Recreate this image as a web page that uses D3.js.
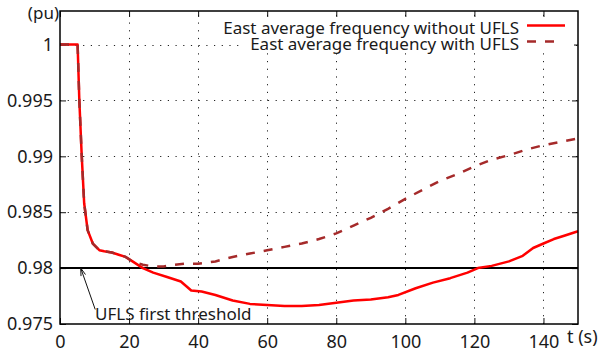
<!DOCTYPE html>
<html>
<head>
<meta charset="utf-8">
<script src="https://cdn.jsdelivr.net/npm/d3@7/dist/d3.min.js"></script>
<style>
body { margin: 0; background: #fff; }
text { font-family: "Noto Sans", sans-serif; fill: #1a1a1a; }
</style>
</head>
<body>
<script>
// data
var tWithout = [0, 5.1, 5.6, 6.3, 7.0, 8.0, 9.5, 11.4, 12.8, 15, 17, 19, 21, 24, 27, 31, 35, 38, 41, 45, 50, 55, 60, 65, 70, 75, 80, 85, 90, 95, 98, 103, 108, 113, 118, 121, 125, 130, 134, 137, 140, 143, 146, 150];
var fWithout = [1, 1, 0.995, 0.99, 0.9858, 0.9834, 0.9822, 0.9816, 0.9815, 0.9814, 0.9812, 0.981, 0.9806, 0.98, 0.9796, 0.9792, 0.9788, 0.978, 0.9779, 0.9776, 0.9771, 0.9768, 0.9767, 0.9766, 0.9766, 0.9767, 0.9769, 0.9771, 0.9772, 0.9774, 0.9776, 0.9782, 0.9787, 0.9791, 0.9796, 0.98, 0.9802, 0.9806, 0.9811, 0.9818, 0.9822, 0.9826, 0.9829, 0.9833];

var tWith = [0, 5.1, 5.6, 6.3, 7.0, 8.0, 9.5, 11.4, 12.8, 15, 17, 19, 21, 24, 27, 30, 33, 36, 40, 45, 50, 55, 60, 65, 70, 75, 80, 85, 90, 95, 100, 105, 110, 115, 120, 125, 130, 135, 140, 145, 150];
var fWith = [1, 1, 0.995, 0.99, 0.9858, 0.9834, 0.9822, 0.9816, 0.9815, 0.9814, 0.9812, 0.981, 0.9806, 0.9803, 0.98015, 0.98015, 0.9803, 0.9804, 0.9804, 0.9806, 0.981, 0.9813, 0.9816, 0.9819, 0.9822, 0.9826, 0.9831, 0.9838, 0.9845, 0.9853, 0.9862, 0.987, 0.9878, 0.9884, 0.9891, 0.9897, 0.9901, 0.9906, 0.991, 0.9913, 0.9916];

var xTicks = [0, 20, 40, 60, 80, 100, 120, 140];
var yTicks = [0.975, 0.98, 0.985, 0.99, 0.995, 1];
var threshold = 0.98;
var seriesNames = ["East average frequency without UFLS", "East average frequency with UFLS"];
var seriesColors = ["#ff0000", "#a52a2a"];
var noteText = "UFLS first threshold";
var noteFrom = [10.2, 0.9763];
var noteTo = [6, 0.98];

///////////////////////////
// plot parameter
var W = 602, H = 352;
var margin = {top: 11, right: 24, bottom: 28, left: 60};

var svg = d3.select("body")
	.append("svg")
	.attr("width", W)
	.attr("height", H);

var x = d3.scaleLinear().domain([0, 150]).range([margin.left, W - margin.right]);
var y = d3.scaleLinear().domain([0.975, 1.003]).range([H - margin.bottom, margin.top]);

// grid
var grid = svg.append("g")
	.attr("stroke", "#222")
	.attr("stroke-width", 1)
	.attr("stroke-dasharray", "1.2,6.5");
grid.selectAll(".gx")
	.data(xTicks.filter(function(d) { return d > 0; }))
	.enter()
	.append("line")
	.attr("x1", function(d) { return Math.round(x(d)) + 0.5; })
	.attr("x2", function(d) { return Math.round(x(d)) + 0.5; })
	.attr("y1", y.range()[0])
	.attr("y2", y.range()[1]);
grid.selectAll(".gy")
	.data(yTicks.filter(function(d) { return d > 0.976 && d != threshold; }))
	.enter()
	.append("line")
	.attr("y1", function(d) { return Math.round(y(d)) + 0.5; })
	.attr("y2", function(d) { return Math.round(y(d)) + 0.5; })
	.attr("x1", x.range()[0])
	.attr("x2", x.range()[1]);

// axes with inward ticks
var fmt = function(d) { return d3.format("")(+d.toFixed(3)); };
var axB = svg.append("g")
	.attr("transform", "translate(0," + y.range()[0] + ")")
	.call(d3.axisBottom(x).tickValues(xTicks).tickSize(-6).tickPadding(11));
var axT = svg.append("g")
	.attr("transform", "translate(0," + y.range()[1] + ")")
	.call(d3.axisTop(x).tickValues(xTicks).tickSize(-6).tickFormat(""));
var axL = svg.append("g")
	.attr("transform", "translate(" + x.range()[0] + ",0)")
	.call(d3.axisLeft(y).tickValues(yTicks).tickSize(-6).tickPadding(7).tickFormat(fmt));
var axR = svg.append("g")
	.attr("transform", "translate(" + x.range()[1] + ",0)")
	.call(d3.axisRight(y).tickValues(yTicks).tickSize(-6).tickFormat(""));
[axB, axT, axL, axR].forEach(function(a) {
	a.select(".domain").remove();
	a.selectAll("line").attr("stroke", "#111");
	a.selectAll("text")
		.attr("fill", "#1a1a1a")
		.style("font-family", "'Noto Sans', sans-serif")
		.style("font-size", "18px");
});

// threshold line
svg.append("line")
	.attr("x1", x.range()[0])
	.attr("x2", x.range()[1])
	.attr("y1", y(threshold))
	.attr("y2", y(threshold))
	.attr("stroke", "#000")
	.attr("stroke-width", 2);

// curves
var line = d3.line()
	.x(function(d) { return x(d[0]); })
	.y(function(d) { return y(d[1]); });
svg.append("path")
	.datum(d3.zip(tWithout, fWithout))
	.attr("fill", "none")
	.attr("stroke", seriesColors[0])
	.attr("stroke-width", 2.5)
	.attr("stroke-linejoin", "round")
	.attr("d", line);
svg.append("path")
	.datum(d3.zip(tWith, fWith))
	.attr("fill", "none")
	.attr("stroke", seriesColors[1])
	.attr("stroke-width", 2.5)
	.attr("stroke-dasharray", "9,9")
	.attr("d", line);

// frame
svg.append("rect")
	.attr("x", x.range()[0])
	.attr("y", y.range()[1])
	.attr("width", x.range()[1] - x.range()[0])
	.attr("height", y.range()[0] - y.range()[1])
	.attr("fill", "none")
	.attr("stroke", "#000")
	.attr("stroke-width", 1.5);

// legend
svg.append("rect")
	.attr("x", 244).attr("y", 18)
	.attr("width", 330).attr("height", 33)
	.attr("fill", "#fff");
var leg = svg.selectAll(".leg")
	.data(seriesNames)
	.enter()
	.append("g")
	.attr("transform", function(d, i) { return "translate(0," + (34 + i * 16) + ")"; });
leg.append("text")
	.attr("x", 519)
	.attr("text-anchor", "end")
	.style("font-size", "17px")
	.text(function(d) { return d; });
leg.append("line")
	.attr("x1", 527)
	.attr("x2", function(d, i) { return i ? 561 : 565; })
	.attr("y1", -8.5)
	.attr("y2", -8.5)
	.attr("stroke", function(d, i) { return seriesColors[i]; })
	.attr("stroke-width", 2.5)
	.attr("stroke-dasharray", function(d, i) { return i ? "9,9" : null; });

// axis names
svg.append("text")
	.attr("x", x.range()[0] - 1)
	.attr("y", 19)
	.attr("text-anchor", "end")
	.style("font-size", "17px")
	.text("(pu)");
svg.append("text")
	.attr("x", 567)
	.attr("y", 343)
	.style("font-size", "18px")
	.text("t (s)");

// annotation with arrow
var ax0 = x(noteFrom[0]), ay0 = y(noteFrom[1]);
var ax1 = x(noteTo[0]), ay1 = y(noteTo[1]);
var ang = Math.atan2(ay0 - ay1, ax0 - ax1);
svg.append("path")
	.attr("d", "M" + ax0 + "," + ay0 + "L" + ax1 + "," + ay1 +
		"M" + (ax1 + 8 * Math.cos(ang - 0.3)) + "," + (ay1 + 8 * Math.sin(ang - 0.3)) +
		"L" + ax1 + "," + ay1 +
		"L" + (ax1 + 8 * Math.cos(ang + 0.3)) + "," + (ay1 + 8 * Math.sin(ang + 0.3)))
	.attr("fill", "none")
	.attr("stroke", "#111")
	.attr("stroke-width", 1);
svg.append("text")
	.attr("x", 95)
	.attr("y", 320)
	.style("font-size", "17px")
	.text(noteText);
</script>
</body>
</html>
